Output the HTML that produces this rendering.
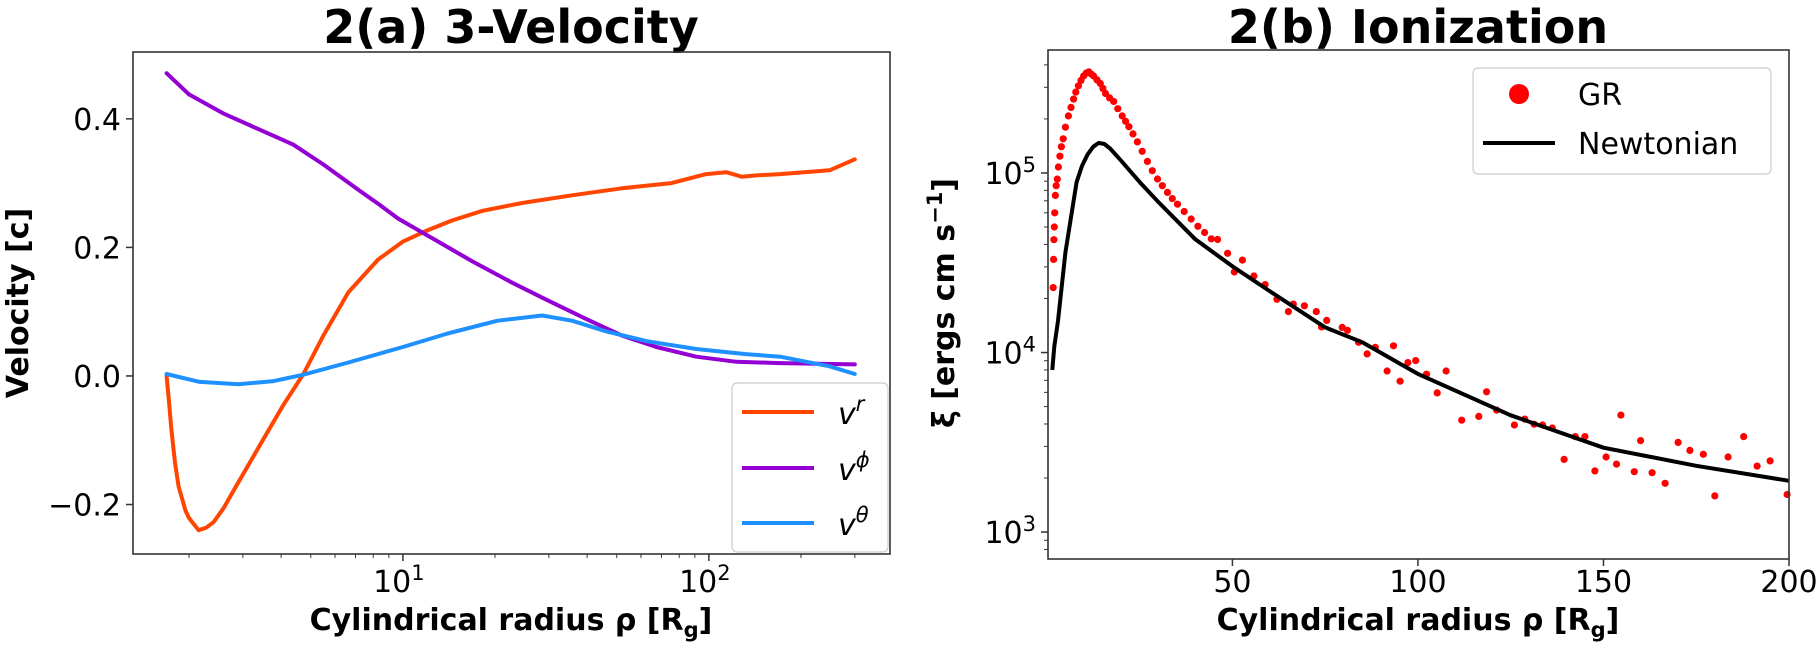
<!DOCTYPE html>
<html><head><meta charset="utf-8"><style>
html,body{margin:0;padding:0;background:#fff;}
svg{display:block;font-family:"DejaVu Sans","Liberation Sans",sans-serif;}
</style></head><body>
<svg id="fig" width="1820" height="649" viewBox="0 0 1820 649" xmlns="http://www.w3.org/2000/svg">
<text x="511" y="43" text-anchor="middle" font-size="46" font-weight="bold">2(a) 3-Velocity</text>
<text x="1418" y="43" text-anchor="middle" font-size="46" font-weight="bold">2(b) Ionization</text>
<g id="left"></g>
<g id="right"></g>
</svg>
<script>
// ---------- Left chart data ----------
const vrX = [1.69,1.72,1.75,1.80,1.85,1.95,2.0,2.15,2.28,2.41,2.60,2.80,3.37,4.07,4.73,5.50,6.63,8.29,10,12.1,14.5,18.2,24.5,35.7,51.9,75.5,98,114,128,143,171,248,300];
const vrY = [0,-0.040,-0.082,-0.135,-0.172,-0.210,-0.221,-0.240,-0.236,-0.227,-0.205,-0.178,-0.112,-0.045,0.003,0.063,0.130,0.181,0.209,0.227,0.242,0.257,0.269,0.281,0.292,0.300,0.314,0.317,0.310,0.312,0.314,0.320,0.337];
const vphiX = [1.69,2.0,2.60,3.37,4.38,5.50,7.14,8.3,9.64,12.5,16.9,22.8,29.6,40,51.9,67.4,91,123,171,300];
const vphiY = [0.471,0.438,0.408,0.384,0.360,0.329,0.290,0.268,0.245,0.214,0.178,0.145,0.118,0.088,0.063,0.045,0.030,0.022,0.020,0.018];
const vthX = [1.69,2.15,2.9,3.78,4.73,6.63,10,14.0,20.4,28.5,35.7,46.4,62.7,91,132,171,248,300];
const vthY = [0.003,-0.009,-0.013,-0.008,0.002,0.021,0.045,0.066,0.086,0.094,0.086,0.069,0.054,0.042,0.034,0.030,0.015,0.003];
const leftYTicks = [-0.2,0.0,0.2,0.4];
const leftYTickLabels = ["\u22120.2","0.0","0.2","0.4"];
const leftXDecades = [1,2];

// ---------- Right chart data ----------
const newtX = [1.47,2,3,5,8,9.5,11,12.5,14,15.5,17,20,25,30,40,50,60,75,85,100,125,150,175,200];
const newtY = [8000,10800,15000,36000,89000,110000,127000,140000,147000,145000,137000,117000,89000,69000,42700,30200,22000,13800,11400,7600,4470,2950,2340,1930];
const grX = [1.7,1.8,1.9,2.0,2.1,2.3,2.5,2.8,3.1,3.5,3.9,4.4,5.0,5.8,6.5,7.2,7.8,8.5,9.2,9.9,10.6,11.3,12.0,12.6,13.5,14.4,15.1,15.8,16.9,18.0,19.1,20.3,21.2,22.1,23.2,24.4,25.7,27.1,28.4,29.8,31.1,32.5,33.8,35.2,37.0,38.9,40.7,42.5,44.3,46.0,48.7,50.5,52.7,55.8,58.8,62.0,65.1,66.4,69.4,72.6,74.0,75.4,79.6,81.0,84.0,86.3,88.5,91.7,93.4,95.2,97.3,99.4,102.3,105.2,107.6,111.8,116.4,118.5,121.2,126.0,128.8,131.3,133.6,136.2,139.4,142.4,145.0,147.7,150.7,153.5,154.7,158.3,160.0,163.1,166.6,170.1,173.3,176.9,180.0,183.6,187.8,191.4,194.9,199.5];
const grY = [23000,33000,42500,50000,60000,75000,85000,92500,108000,124000,140000,155000,180000,208000,232000,258000,282000,306000,328000,347000,360000,366000,355000,347000,330000,315000,296000,277000,262000,250000,228000,208000,194000,181000,165000,149000,132000,116000,103000,92600,85000,78000,72000,67000,61000,55400,50500,46600,43000,42600,35700,28100,32700,26700,23900,19800,16900,18600,18200,16900,13900,15100,13800,13300,11400,9830,10700,7890,10900,6920,8790,9020,7570,5960,7890,4200,4410,6040,4780,3950,4260,3990,3950,3800,2540,3400,3400,2190,2620,2390,4480,2170,3230,2140,1870,3160,2850,2710,1590,2620,3400,2330,2490,1620];
const rightXTicks = [50,100,150,200];
const rightYDecades = [3,4,5];

const NS = "http://www.w3.org/2000/svg";
function mk(parent, tag, attrs){const e=document.createElementNS(NS,tag);for(const k in attrs)e.setAttribute(k,attrs[k]);parent.appendChild(e);return e;}

// ---------- Left chart ----------
(function(){
  const g = document.getElementById('left');
  const L=133,R=890,T=52,B=554;
  const lx0=0.118, lx1=2.592, y0=-0.277, y1=0.504;
  const sx = v => L + (Math.log10(v)-lx0)/(lx1-lx0)*(R-L);
  const sy = v => B - (v-y0)/(y1-y0)*(B-T);
  function line(xs,ys,color,name){
    const p = xs.map((x,i)=>(i?'L':'M')+sx(x).toFixed(1)+','+sy(ys[i]).toFixed(1)).join('');
    const e = mk(g,'path',{d:p,fill:'none',stroke:color,'stroke-width':4,'stroke-linejoin':'round','stroke-linecap':'round'});
    
    
  }
  line(vrX,vrY,'#ff4500','vr-line');
  line(vphiX,vphiY,'#9400d3','vphi-line');
  line(vthX,vthY,'#1e90ff','vtheta-line');
  const fr = mk(g,'rect',{x:L,y:T,width:R-L,height:B-T,fill:'none',stroke:'#333','stroke-width':1.6});
  
  
  leftYTicks.forEach((v,i)=>{
    mk(g,'line',{x1:L-7,x2:L,y1:sy(v),y2:sy(v),stroke:'#333','stroke-width':1.5});
    const t = mk(g,'text',{x:L-12,y:sy(v)+11,'text-anchor':'end','font-size':30});
    t.textContent = leftYTickLabels[i];
    
    
  });
  for(let d=0; d<=2; d++){
    for(let m=1;m<10;m++){
      const v=m*Math.pow(10,d); const x=sx(v);
      if(x<L||x>R) continue;
      const major = (m===1);
      mk(g,'line',{x1:x,x2:x,y1:B,y2:B+(major?7:4),stroke:'#333','stroke-width':major?1.5:1});
    }
  }
  leftXDecades.forEach(d=>{
    const t = mk(g,'text',{x:sx(Math.pow(10,d))-4,y:592,'text-anchor':'middle','font-size':30});
    t.innerHTML = '10<tspan dy="-12" font-size="21">'+d+'</tspan>';
    
    
  });
  const xl = mk(g,'text',{x:511,y:630,'text-anchor':'middle','font-size':30,'font-weight':'bold'});
  xl.innerHTML='Cylindrical radius ρ [R<tspan dy="7" font-size="21">g</tspan><tspan dy="-7">]</tspan>';
  
  
  const yl = mk(g,'text',{x:0,y:0,'text-anchor':'middle','font-size':30,'font-weight':'bold',transform:'translate(28,303) rotate(-90)'});
  yl.textContent='Velocity [c]';
  
  
  const lg = mk(g,'g',{});
  
  
  mk(lg,'rect',{x:732,y:383,width:156,height:169,rx:5,fill:'#fff','fill-opacity':0.85,stroke:'#ccc','stroke-width':1.2});
  const ent=[['#ff4500','r',412,'legend-entry-vr'],['#9400d3','ϕ',468,'legend-entry-vphi'],['#1e90ff','θ',523,'legend-entry-vtheta']];
  ent.forEach(e=>{
    const eg = mk(lg,'g',{});
    
    
    mk(eg,'line',{x1:742,x2:814,y1:e[2],y2:e[2],stroke:e[0],'stroke-width':4});
    const t = mk(eg,'text',{x:838,y:e[2]+12,'font-size':30,'font-style':'italic'});
    t.innerHTML='v<tspan dy="-13" font-size="21">'+e[1]+'</tspan>';
  });
})();

// ---------- Right chart ----------
(function(){
  const g = document.getElementById('right');
  const L=1048,R=1789,T=50,B=559;
  const x0=0.3, x1=200, ly0=2.85, ly1=5.685;
  const sx = v => L + (v-x0)/(x1-x0)*(R-L);
  const sy = v => B - (Math.log10(v)-ly0)/(ly1-ly0)*(B-T);
  grX.forEach((x,i)=>{
    const c = mk(g,'circle',{cx:sx(x).toFixed(1),cy:sy(grY[i]).toFixed(1),r:3.6,fill:'#ff0000'});
    
    
  });
  const p = newtX.map((x,i)=>(i?'L':'M')+sx(x).toFixed(1)+','+sy(newtY[i]).toFixed(1)).join('');
  const nl = mk(g,'path',{d:p,fill:'none',stroke:'#000','stroke-width':4,'stroke-linejoin':'round'});
  
  
  const fr = mk(g,'rect',{x:L,y:T,width:R-L,height:B-T,fill:'none',stroke:'#333','stroke-width':1.6});
  
  
  for(let d=2; d<=5; d++){
    for(let m=1;m<10;m++){
      const v=m*Math.pow(10,d); const y=sy(v);
      if(y<T||y>B) continue;
      const major=(m===1);
      mk(g,'line',{x1:L-(major?7:4),x2:L,y1:y,y2:y,stroke:'#333','stroke-width':major?1.5:1});
    }
  }
  rightYDecades.forEach(d=>{
    const t = mk(g,'text',{x:L-12,y:sy(Math.pow(10,d))+11,'text-anchor':'end','font-size':30});
    t.innerHTML='10<tspan dy="-12" font-size="21">'+d+'</tspan>';
    
    
  });
  rightXTicks.forEach(v=>{
    mk(g,'line',{x1:sx(v),x2:sx(v),y1:B,y2:B+7,stroke:'#333','stroke-width':1.5});
    const t = mk(g,'text',{x:sx(v),y:592,'text-anchor':'middle','font-size':30});
    t.textContent=v;
    
    
  });
  const xl = mk(g,'text',{x:1418,y:630,'text-anchor':'middle','font-size':30,'font-weight':'bold'});
  xl.innerHTML='Cylindrical radius ρ [R<tspan dy="7" font-size="21">g</tspan><tspan dy="-7">]</tspan>';
  
  
  const yl = mk(g,'text',{x:0,y:0,'text-anchor':'middle','font-size':30,'font-weight':'bold',transform:'translate(954,303) rotate(-90)'});
  yl.innerHTML='ξ [ergs cm s<tspan dy="-12" font-size="21">−1</tspan><tspan dy="12">]</tspan>';
  
  
  const lg = mk(g,'g',{});
  
  
  mk(lg,'rect',{x:1473,y:68,width:298,height:106,rx:5,fill:'#fff','fill-opacity':0.85,stroke:'#ccc','stroke-width':1.2});
  const e1 = mk(lg,'g',{});
  
  
  mk(e1,'circle',{cx:1519,cy:94,r:10,fill:'#ff0000'});
  const t1 = mk(e1,'text',{x:1578,y:105,'font-size':30}); t1.textContent='GR';
  const e2 = mk(lg,'g',{});
  
  
  mk(e2,'line',{x1:1483,x2:1555,y1:143,y2:143,stroke:'#000','stroke-width':4});
  const t2 = mk(e2,'text',{x:1578,y:154,'font-size':30}); t2.textContent='Newtonian';
})();
</script>
</body></html>
